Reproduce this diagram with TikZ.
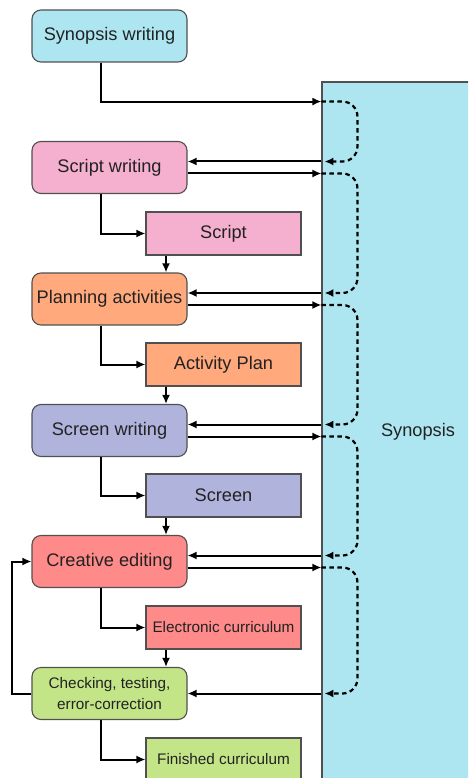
\documentclass[tikz,border=0pt]{standalone}
\usepackage{fontspec}
\setmainfont{Liberation Sans}
\usetikzlibrary{arrows.meta,calc}
\definecolor{cCyan}{HTML}{ADE6F1}
\definecolor{cPink}{HTML}{F4B0CE}
\definecolor{cOrange}{HTML}{FFA97D}
\definecolor{cLav}{HTML}{B0B4DD}
\definecolor{cRed}{HTML}{FF8A8A}
\definecolor{cGreen}{HTML}{C3E588}
\definecolor{bd}{HTML}{505050}
\definecolor{tx}{HTML}{222222}
\begin{document}
\begin{tikzpicture}[x=1pt,y=-1pt,
  rbox/.style={draw=bd, line width=1.1pt, rounded corners=9pt, minimum width=155pt, minimum height=52pt, inner sep=0pt, align=center, text=tx, font=\fontsize{18.2}{21}\selectfont},
  sbox/.style={draw=bd, line width=1.1pt, minimum width=155pt, minimum height=43pt, inner sep=0pt, text=tx, font=\fontsize{18.2}{21}\selectfont},
  small/.style={font=\fontsize{15.3}{21}\selectfont},
  arr/.style={line width=2pt, -{Latex[length=9pt,width=8pt]}},
  dsh/.style={line width=2.2pt, dash pattern=on 4.5pt off 3.5pt, rounded corners=15pt, -{Latex[length=9pt,width=8pt]}},
]
\useasboundingbox (0,0) rectangle (468,778);
\clip (0,0) rectangle (468,778);
\fill[white] (0,0) rectangle (468,778);

\node[sbox, fill=cCyan, minimum width=192pt, minimum height=700pt] (syn) at (418,432) {Synopsis};

\node[rbox, fill=cCyan] (sw) at (109.5,36) {Synopsis writing};
\node[rbox, fill=cPink] (sc) at (109.5,167.5) {Script writing};
\node[sbox, fill=cPink] (scr) at (223.5,233.5) {Script};
\node[rbox, fill=cOrange] (pl) at (109.5,299) {Planning activities};
\node[sbox, fill=cOrange] (ap) at (223.5,364.5) {Activity Plan};
\node[rbox, fill=cLav] (sn) at (109.5,430.5) {Screen writing};
\node[sbox, fill=cLav] (scn) at (223.5,495.5) {Screen};
\node[rbox, fill=cRed] (ce) at (109.5,561.5) {Creative editing};
\node[sbox, fill=cRed, small] (ec) at (223.5,627.5) {Electronic curriculum};
\node[rbox, fill=cGreen, small] (ck) at (109.5,693.5) {Checking, testing,\\error-correction};
\node[sbox, fill=cGreen, small] (fc) at (223.5,759.5) {Finished curriculum};

\coordinate (c1) at (101,0);
\coordinate (c2) at (166,0);

% left column flow
\draw[arr] (sc.south -| c1) |- (scr.west);
\draw[arr] (scr.south -| c2) -- (pl.north -| c2);
\draw[arr] (pl.south -| c1) |- (ap.west);
\draw[arr] (ap.south -| c2) -- (sn.north -| c2);
\draw[arr] (sn.south -| c1) |- (scn.west);
\draw[arr] (scn.south -| c2) -- (ce.north -| c2);
\draw[arr] (ce.south -| c1) |- (ec.west);
\draw[arr] (ec.south -| c2) -- (ck.north -| c2);
\draw[arr] (ck.south -| c1) |- (fc.west);
\draw[arr] (ck.west) -- ++(-19,0) |- (ce.west);

% connection points
\coordinate (sw-o) at ($(sw.south -| c1)+(0,39)$);
\foreach \n in {sc,pl,sn,ce,ck}{
  \coordinate (\n-i) at ($(\n.east)+(0,-6)$);
  \coordinate (\n-o) at ($(\n.east)+(0,6)$);
}
\coordinate (ck-i) at (ck.east);
\foreach \n in {sw,sc,pl,sn,ce}{
  \coordinate (\n-oe) at (\n-o -| syn.west);
}
\foreach \n in {sc,pl,sn,ce,ck}{
  \coordinate (\n-ie) at (\n-i -| syn.west);
}

\draw[arr] (sw.south -| c1) |- (sw-oe);
\foreach \n in {sc,pl,sn,ce}{
  \draw[arr] (\n-o) -- (\n-oe);
}
\foreach \n in {sc,pl,sn,ce,ck}{
  \draw[arr] (\n-ie) -- (\n-i);
}
\draw[dsh] (sw-oe) -- ++(36,0) |- ([xshift=3pt]sc-ie);
\draw[dsh] (sc-oe) -- ++(36,0) |- ([xshift=3pt]pl-ie);
\draw[dsh] (pl-oe) -- ++(36,0) |- ([xshift=3pt]sn-ie);
\draw[dsh] (sn-oe) -- ++(36,0) |- ([xshift=3pt]ce-ie);
\draw[dsh] (ce-oe) -- ++(36,0) |- ([xshift=3pt]ck-ie);
\end{tikzpicture}
\end{document}
